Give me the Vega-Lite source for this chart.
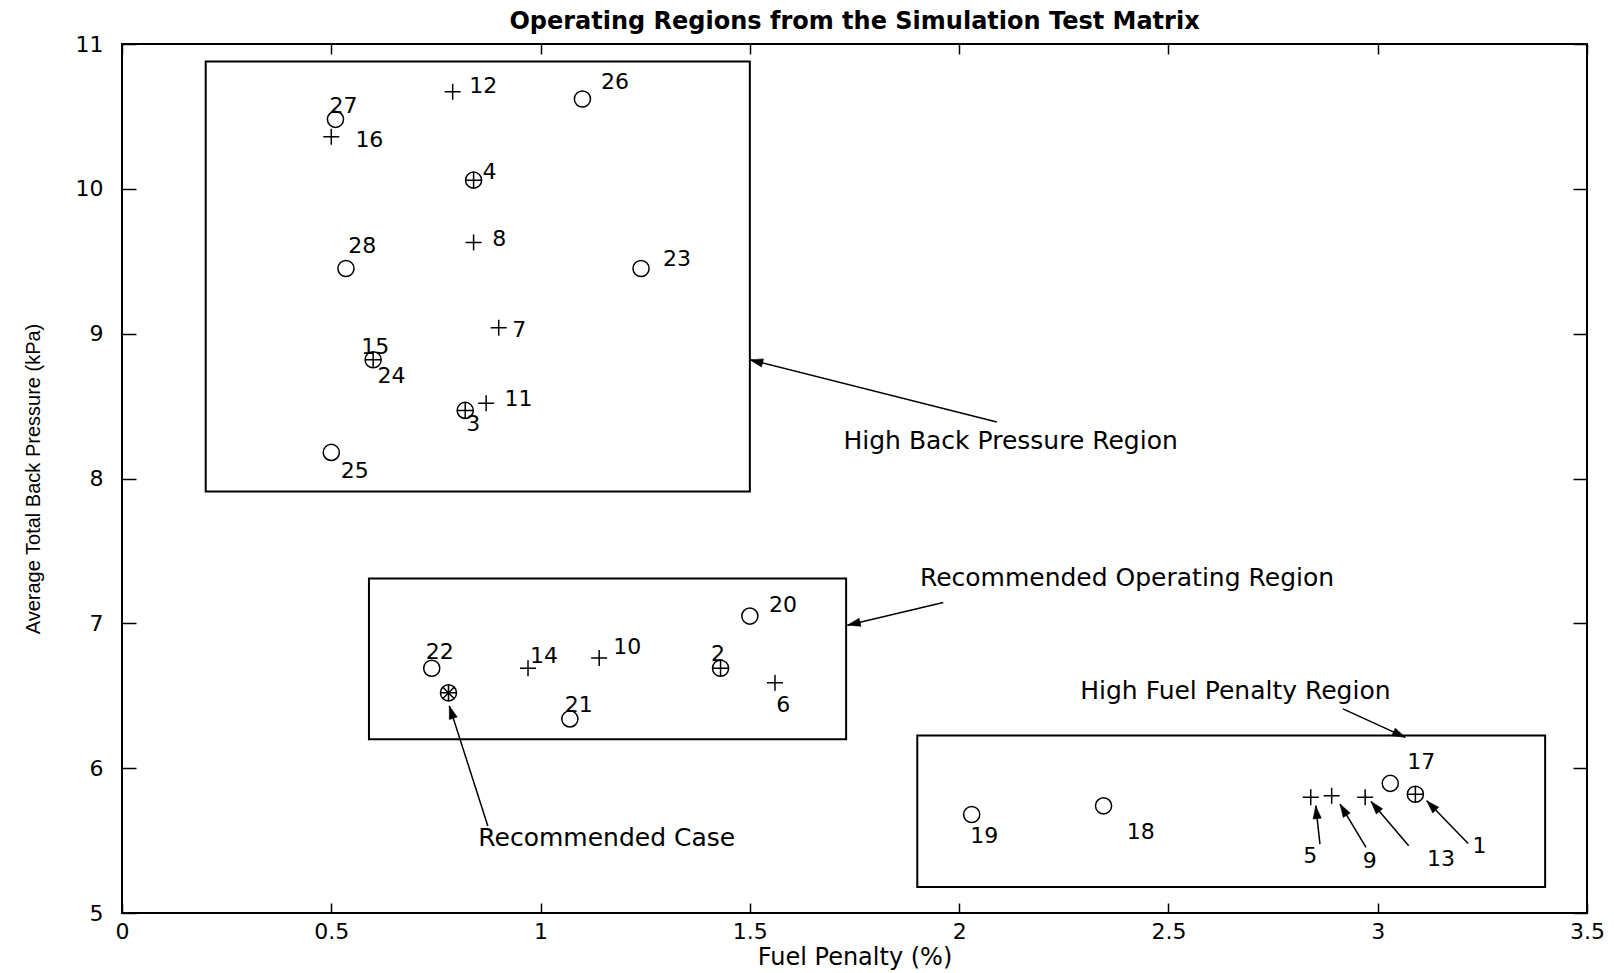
{
  "$schema": "https://vega.github.io/schema/vega-lite/v6.json",
  "width": 1465,
  "height": 869,
  "autosize": {"type": "none"},
  "padding": {"left": 122, "top": 44, "right": 27, "bottom": 60},
  "background": "white",
  "title": {
    "text": "Operating Regions from the Simulation Test Matrix",
    "font": "DejaVu Sans",
    "fontWeight": "bold",
    "fontSize": 24,
    "color": "black",
    "anchor": "middle",
    "offset": -1
  },
  "config": {
    "view": {"stroke": "black", "strokeWidth": 2},
    "text": {"font": "DejaVu Sans", "color": "black"}
  },
  "datasets": {
    "cases": [
      {"case": "1", "fuel": 3.09, "pressure": 5.82, "marker": "both"},
      {"case": "2", "fuel": 1.43, "pressure": 6.69, "marker": "both"},
      {"case": "3", "fuel": 0.82, "pressure": 8.47, "marker": "both"},
      {"case": "4", "fuel": 0.84, "pressure": 10.06, "marker": "both"},
      {"case": "5", "fuel": 2.84, "pressure": 5.80, "marker": "plus"},
      {"case": "6", "fuel": 1.56, "pressure": 6.59, "marker": "plus"},
      {"case": "7", "fuel": 0.90, "pressure": 9.04, "marker": "plus"},
      {"case": "8", "fuel": 0.84, "pressure": 9.63, "marker": "plus"},
      {"case": "9", "fuel": 2.89, "pressure": 5.81, "marker": "plus"},
      {"case": "10", "fuel": 1.14, "pressure": 6.76, "marker": "plus"},
      {"case": "11", "fuel": 0.87, "pressure": 8.52, "marker": "plus"},
      {"case": "12", "fuel": 0.79, "pressure": 10.67, "marker": "plus"},
      {"case": "13", "fuel": 2.97, "pressure": 5.80, "marker": "plus"},
      {"case": "14", "fuel": 0.97, "pressure": 6.69, "marker": "plus"},
      {"case": "15", "fuel": 0.60, "pressure": 8.82, "marker": "plus"},
      {"case": "16", "fuel": 0.50, "pressure": 10.36, "marker": "plus"},
      {"case": "17", "fuel": 3.03, "pressure": 5.895, "marker": "circle"},
      {"case": "18", "fuel": 2.345, "pressure": 5.74, "marker": "circle"},
      {"case": "19", "fuel": 2.03, "pressure": 5.68, "marker": "circle"},
      {"case": "20", "fuel": 1.50, "pressure": 7.05, "marker": "circle"},
      {"case": "21", "fuel": 1.07, "pressure": 6.34, "marker": "circle"},
      {"case": "22", "fuel": 0.74, "pressure": 6.69, "marker": "circle"},
      {"case": "23", "fuel": 1.24, "pressure": 9.45, "marker": "circle"},
      {"case": "24", "fuel": 0.60, "pressure": 8.82, "marker": "circle"},
      {"case": "25", "fuel": 0.50, "pressure": 8.18, "marker": "circle"},
      {"case": "26", "fuel": 1.10, "pressure": 10.62, "marker": "circle"},
      {"case": "27", "fuel": 0.51, "pressure": 10.48, "marker": "circle"},
      {"case": "28", "fuel": 0.535, "pressure": 9.45, "marker": "circle"},
      {"case": "recommended", "fuel": 0.78, "pressure": 6.52, "marker": "star"}
    ],
    "caseLabels": [
      {"text": "1", "fuel": 3.243, "pressure": 5.464},
      {"text": "2", "fuel": 1.424, "pressure": 6.79},
      {"text": "3", "fuel": 0.839, "pressure": 8.376},
      {"text": "4", "fuel": 0.878, "pressure": 10.113},
      {"text": "5", "fuel": 2.839, "pressure": 5.395},
      {"text": "6", "fuel": 1.58, "pressure": 6.439},
      {"text": "7", "fuel": 0.949, "pressure": 9.026},
      {"text": "8", "fuel": 0.901, "pressure": 9.657},
      {"text": "9", "fuel": 2.981, "pressure": 5.36},
      {"text": "10", "fuel": 1.207, "pressure": 6.84},
      {"text": "11", "fuel": 0.947, "pressure": 8.546},
      {"text": "12", "fuel": 0.863, "pressure": 10.713},
      {"text": "13", "fuel": 3.151, "pressure": 5.372},
      {"text": "14", "fuel": 1.008, "pressure": 6.773},
      {"text": "15", "fuel": 0.605, "pressure": 8.91},
      {"text": "16", "fuel": 0.591, "pressure": 10.335},
      {"text": "17", "fuel": 3.104, "pressure": 6.04},
      {"text": "18", "fuel": 2.434, "pressure": 5.556},
      {"text": "19", "fuel": 2.06, "pressure": 5.533},
      {"text": "20", "fuel": 1.579, "pressure": 7.124},
      {"text": "21", "fuel": 1.091, "pressure": 6.439},
      {"text": "22", "fuel": 0.759, "pressure": 6.801},
      {"text": "23", "fuel": 1.326, "pressure": 9.515},
      {"text": "24", "fuel": 0.644, "pressure": 8.707},
      {"text": "25", "fuel": 0.556, "pressure": 8.053},
      {"text": "26", "fuel": 1.178, "pressure": 10.736},
      {"text": "27", "fuel": 0.529, "pressure": 10.57},
      {"text": "28", "fuel": 0.574, "pressure": 9.602}
    ],
    "regions": [
      {"name": "High Back Pressure Region", "x1": 0.2, "x2": 1.5, "y1": 7.91, "y2": 10.88},
      {"name": "Recommended Operating Region", "x1": 0.59, "x2": 1.73, "y1": 6.2, "y2": 7.31},
      {"name": "High Fuel Penalty Region", "x1": 1.9, "x2": 3.4, "y1": 5.18, "y2": 6.225}
    ],
    "notes": [
      {"text": "High Back Pressure Region", "fuel": 2.123, "pressure": 8.26},
      {"text": "Recommended Operating Region", "fuel": 2.401, "pressure": 7.315},
      {"text": "High Fuel Penalty Region", "fuel": 2.66, "pressure": 6.53},
      {"text": "Recommended Case", "fuel": 1.158, "pressure": 5.515}
    ],
    "arrows": [
      {"tx": 2.09, "ty": 8.39, "hx": 1.5, "hy": 8.82},
      {"tx": 1.962, "ty": 7.144, "hx": 1.733, "hy": 6.987},
      {"tx": 2.917, "ty": 6.409, "hx": 3.066, "hy": 6.213},
      {"tx": 0.874, "ty": 5.6, "hx": 0.782, "hy": 6.43},
      {"tx": 2.862, "ty": 5.476, "hx": 2.852, "hy": 5.741},
      {"tx": 2.972, "ty": 5.453, "hx": 2.91, "hy": 5.752},
      {"tx": 3.074, "ty": 5.464, "hx": 2.984, "hy": 5.77},
      {"tx": 3.216, "ty": 5.48, "hx": 3.117, "hy": 5.775}
    ]
  },
  "resolve": {"axis": {"x": "independent", "y": "independent"}},
  "layer": [
    {
      "data": {"name": "regions"},
      "mark": {"type": "rect", "fillOpacity": 0, "stroke": "black", "strokeWidth": 2},
      "encoding": {
        "x": {
          "field": "x1", "type": "quantitative",
          "scale": {"domain": [0, 3.5], "nice": false, "zero": false},
          "axis": {
            "orient": "top", "values": [0, 0.5, 1, 1.5, 2, 2.5, 3, 3.5],
            "labels": false, "title": null, "grid": false, "domain": false,
            "tickSize": -10, "tickColor": "black", "tickWidth": 1.5
          }
        },
        "x2": {"field": "x2"},
        "y": {
          "field": "y1", "type": "quantitative",
          "scale": {"domain": [5, 11], "nice": false, "zero": false},
          "axis": {
            "orient": "right", "values": [5, 6, 7, 8, 9, 10, 11],
            "labels": false, "title": null, "grid": false, "domain": false,
            "tickSize": -14, "tickColor": "black", "tickWidth": 1.5
          }
        },
        "y2": {"field": "y2"}
      }
    },
    {
      "data": {"name": "arrows"},
      "mark": {"type": "rule", "stroke": "black", "strokeWidth": 1.5},
      "encoding": {
        "x": {"field": "tx", "type": "quantitative", "axis": null},
        "y": {"field": "ty", "type": "quantitative", "axis": null},
        "x2": {"field": "hx"},
        "y2": {"field": "hy"}
      }
    },
    {
      "data": {"name": "arrows"},
      "transform": [
        {"calculate": "atan2((datum.hx - datum.tx) * width / 3.5, (datum.hy - datum.ty) * height / 6) * 180 / PI", "as": "heading"}
      ],
      "mark": {
        "type": "point",
        "shape": "M0,0L0.7,2.2L-0.7,2.2Z",
        "filled": true,
        "fill": "black",
        "stroke": "black",
        "strokeWidth": 0.5,
        "opacity": 1,
        "size": 140
      },
      "encoding": {
        "x": {"field": "hx", "type": "quantitative", "axis": null},
        "y": {"field": "hy", "type": "quantitative", "axis": null},
        "angle": {"field": "heading", "type": "quantitative", "scale": null}
      }
    },
    {
      "data": {"name": "cases"},
      "transform": [{"filter": "datum.marker !== 'plus'"}],
      "mark": {"type": "point", "shape": "circle", "filled": false, "stroke": "black", "strokeWidth": 1.5, "opacity": 1, "size": 260},
      "encoding": {
        "x": {
          "field": "fuel", "type": "quantitative",
          "axis": {
            "orient": "bottom", "values": [0, 0.5, 1, 1.5, 2, 2.5, 3, 3.5], "format": "~g",
            "grid": false, "domain": false, "labelFlush": false, "labelOverlap": false,
            "tickSize": -10, "tickColor": "black", "tickWidth": 1.5,
            "labelFont": "DejaVu Sans", "labelFontSize": 22, "labelColor": "black", "labelPadding": 18,
            "title": "Fuel Penalty (%)", "titleFont": "DejaVu Sans", "titleFontSize": 24,
            "titleFontWeight": "normal", "titleColor": "black", "titlePadding": 3
          }
        },
        "y": {
          "field": "pressure", "type": "quantitative",
          "axis": {
            "orient": "left", "values": [5, 6, 7, 8, 9, 10, 11],
            "grid": false, "domain": false, "labelFlush": false, "labelOverlap": false,
            "tickSize": -14, "tickColor": "black", "tickWidth": 1.5,
            "labelFont": "DejaVu Sans", "labelFontSize": 22, "labelColor": "black", "labelPadding": 33,
            "title": "Average Total Back Pressure (kPa)", "titleFont": "Liberation Sans", "titleFontSize": 20,
            "titleFontWeight": "normal", "titleColor": "black", "titlePadding": 32
          }
        }
      }
    },
    {
      "data": {"name": "cases"},
      "transform": [{"filter": "datum.marker !== 'circle'"}],
      "mark": {"type": "point", "shape": "M-1,0L1,0M0,-1L0,1", "filled": false, "stroke": "black", "strokeWidth": 1.5, "opacity": 1, "size": 256},
      "encoding": {
        "x": {"field": "fuel", "type": "quantitative", "axis": null},
        "y": {"field": "pressure", "type": "quantitative", "axis": null}
      }
    },
    {
      "data": {"name": "cases"},
      "transform": [{"filter": "datum.marker === 'star'"}],
      "mark": {"type": "point", "shape": "M-0.7,-0.7L0.7,0.7M-0.7,0.7L0.7,-0.7", "filled": false, "stroke": "black", "strokeWidth": 1.5, "opacity": 1, "size": 256},
      "encoding": {
        "x": {"field": "fuel", "type": "quantitative", "axis": null},
        "y": {"field": "pressure", "type": "quantitative", "axis": null}
      }
    },
    {
      "data": {"name": "caseLabels"},
      "mark": {"type": "text", "fontSize": 22, "align": "center", "baseline": "middle"},
      "encoding": {
        "x": {"field": "fuel", "type": "quantitative", "axis": null},
        "y": {"field": "pressure", "type": "quantitative", "axis": null},
        "text": {"field": "text"}
      }
    },
    {
      "data": {"name": "notes"},
      "mark": {"type": "text", "fontSize": 25, "align": "center", "baseline": "middle"},
      "encoding": {
        "x": {"field": "fuel", "type": "quantitative", "axis": null},
        "y": {"field": "pressure", "type": "quantitative", "axis": null},
        "text": {"field": "text"}
      }
    }
  ]
}
